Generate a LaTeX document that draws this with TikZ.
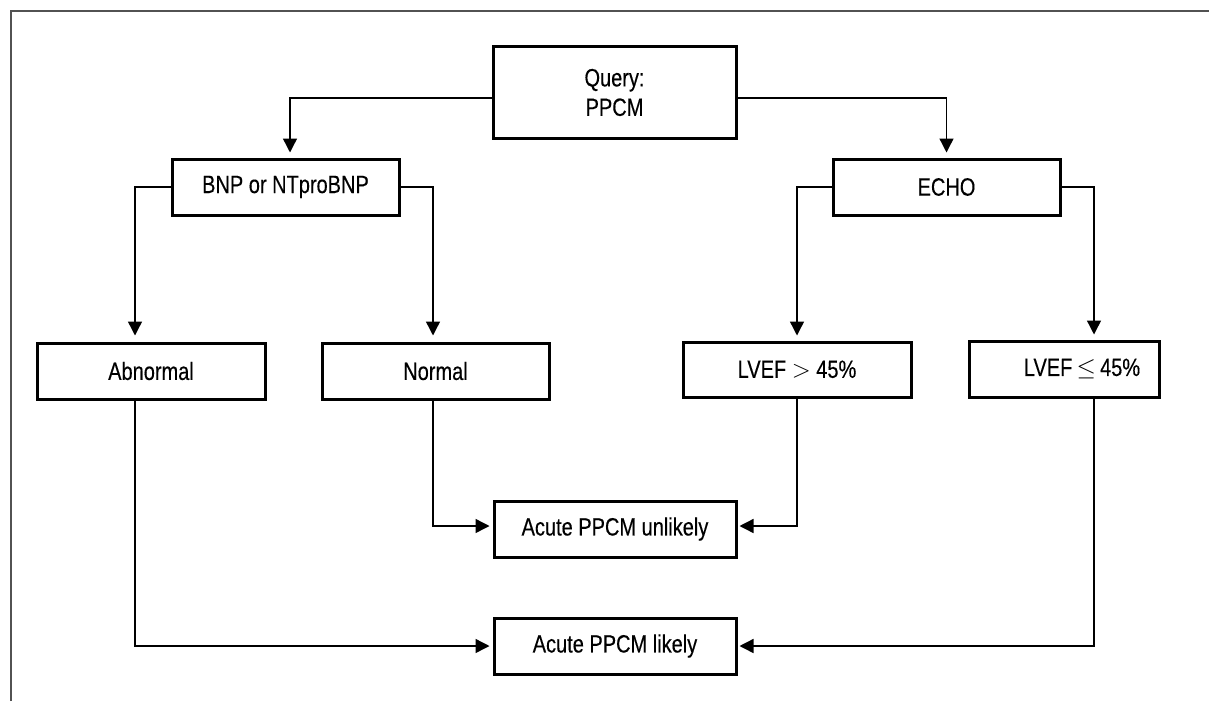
\documentclass[tikz,border=0pt]{standalone}
\usepackage{fontspec}
\setmainfont{Liberation Sans}[FakeStretch=0.8,FakeBold=0.3]
\usetikzlibrary{arrows.meta}
\begin{document}
\begin{tikzpicture}[x=1pt,y=-1pt,
  box/.style={draw=black,line width=3pt,inner sep=0pt,align=center,
    font=\fontsize{25}{29.5}\selectfont},
  conn/.style={line width=1.4pt,-{Triangle[width=14pt,length=14pt]}},
  frame/.style={draw=black!68,line width=2pt}]
\useasboundingbox (0,0) rectangle (1209,701);
\draw[frame] (11,701) -- (11,11) -- (1209,11);
\node[box,minimum width=243pt,minimum height=91pt] (q) at (614.5,92.5) {Query:\\PPCM};
\node[box,minimum width=227pt,minimum height=56pt] (bnp) at (285.5,187) {BNP or NTproBNP};
\node[box,minimum width=227pt,minimum height=56pt] (echo) at (946.5,187) {ECHO};
\node[box,minimum width=228pt,minimum height=56pt] (abn) at (151,371) {Abnormal};
\node[box,minimum width=227pt,minimum height=56pt] (nor) at (435.5,371) {Normal};
\node[box,minimum width=228pt,minimum height=55pt] (gt) at (797,369.5) {LVEF $>$ 45\%};
\node[box,minimum width=190pt,minimum height=56pt] (le) at (1064,369) {\hspace*{36pt}LVEF\,$\leq$\,45\%};
\node[box,minimum width=242pt,minimum height=56pt] (unl) at (615,529) {Acute PPCM unlikely};
\node[box,minimum width=242pt,minimum height=56pt] (lik) at (615,646) {Acute PPCM likely};
\draw[conn,shorten >=5pt] ([yshift=-5.5pt]q.west) -| ([xshift=4.5pt]bnp.north);
\draw[conn,shorten >=5pt] ([yshift=-5.5pt]q.east) -| (echo.north);
\draw[conn,shorten >=6pt] (bnp.west) -| ([xshift=-16pt]abn.north);
\draw[conn,shorten >=6pt] (bnp.east) -| ([xshift=-2.5pt]nor.north);
\draw[conn,shorten >=5pt] (echo.west) -| (gt.north);
\draw[conn,shorten >=5pt] (echo.east) -| ([xshift=30pt]le.north);
\draw[conn,shorten >=3pt] ([xshift=-2.5pt]nor.south) |- ([yshift=3pt]unl.west);
\draw[conn,shorten >=2pt] (gt.south) |- ([yshift=3pt]unl.east);
\draw[conn,shorten >=3pt] ([xshift=-16pt]abn.south) |- (lik.west);
\draw[conn,shorten >=2pt] ([xshift=30pt]le.south) |- (lik.east);
\end{tikzpicture}
\end{document}
